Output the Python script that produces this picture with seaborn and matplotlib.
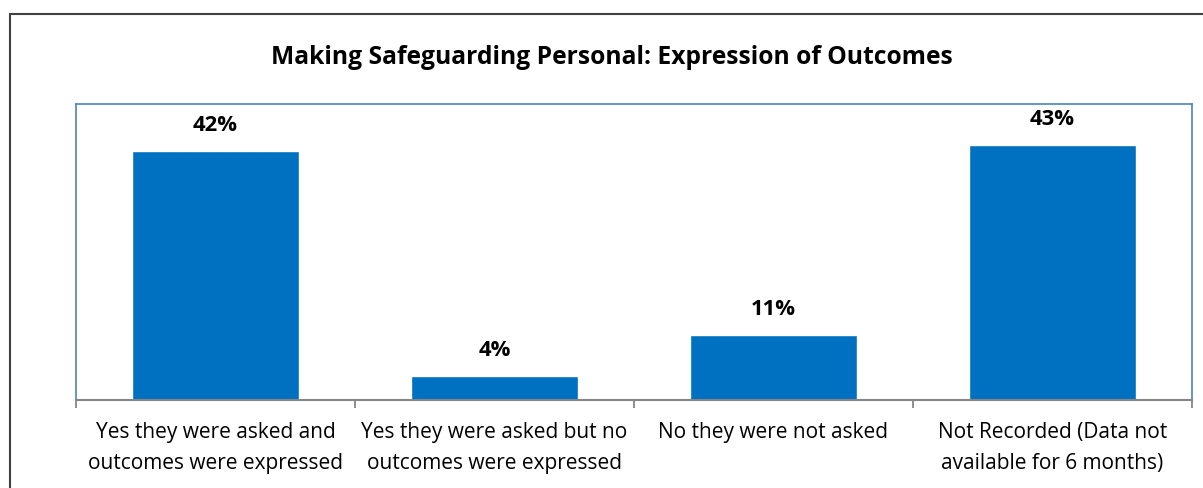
import matplotlib
matplotlib.use("Agg")
import matplotlib.pyplot as plt
import seaborn as sns
import pandas as pd
from matplotlib.patches import Rectangle

categories = [
    "Yes they were asked and\noutcomes were expressed",
    "Yes they were asked but no\noutcomes were expressed",
    "No they were not asked",
    "Not Recorded (Data not\navailable for 6 months)",
]
values = [42, 4, 11, 43]
labels = ["42%", "4%", "11%", "43%"]
title = "Making Safeguarding Personal: Expression of Outcomes"

sns.set_theme(style="white")
plt.rcParams['font.family'] = ['Open Sans', 'DejaVu Sans']

df = pd.DataFrame({"cat": categories, "val": values})

fig = plt.figure(figsize=(12.03, 4.88), dpi=100)
ax = fig.add_axes([76/1203, 1-400/488, (1192-76)/1203, (400-104)/488])

sns.barplot(data=df, x="cat", y="val", color="#0070C0", saturation=1,
            width=0.6, ax=ax)

ax.set_ylim(0, 50)
ax.set_xlim(-0.5, len(categories) - 0.5)
ax.set_yticks([])
ax.set_xlabel("")
ax.set_ylabel("")

# ticks at boundaries, labels at centers
ax.set_xticks([i - 0.5 for i in range(len(categories) + 1)])
ax.set_xticklabels([""] * (len(categories) + 1))
ax.set_xticks(range(len(categories)), minor=True)
ax.set_xticklabels(categories, minor=True, fontsize=15, color="#000000",
                   linespacing=1.6)
ax.tick_params(axis="x", which="major", length=6, width=1.3, color="#868686",
               direction="out", bottom=True)
ax.tick_params(axis="x", which="minor", length=0, pad=16)

for s in ["left", "top", "right"]:
    ax.spines[s].set_color("#4F81BD")
    ax.spines[s].set_linewidth(1.2)
ax.spines["bottom"].set_color("#868686")
ax.spines["bottom"].set_linewidth(1.5)

for i, (v, lab) in enumerate(zip(values, labels)):
    ax.annotate(lab, (i, v), xytext=(0, 11), textcoords="offset points",
                ha="center", va="bottom", fontsize=15.8, fontweight="bold",
                color="#000000")

fig.text(612/1203, 1 - 58/488, title, ha="center", va="center", fontsize=17.7,
         fontweight="bold", color="#000000")

# outer chart border
fig.patches.append(Rectangle((10/1203, -0.1), 1.2, 1 - 14/488 + 0.1,
                             transform=fig.transFigure, fill=False,
                             edgecolor="#404040", linewidth=1.5))

fig.savefig("out.png", dpi=100)
